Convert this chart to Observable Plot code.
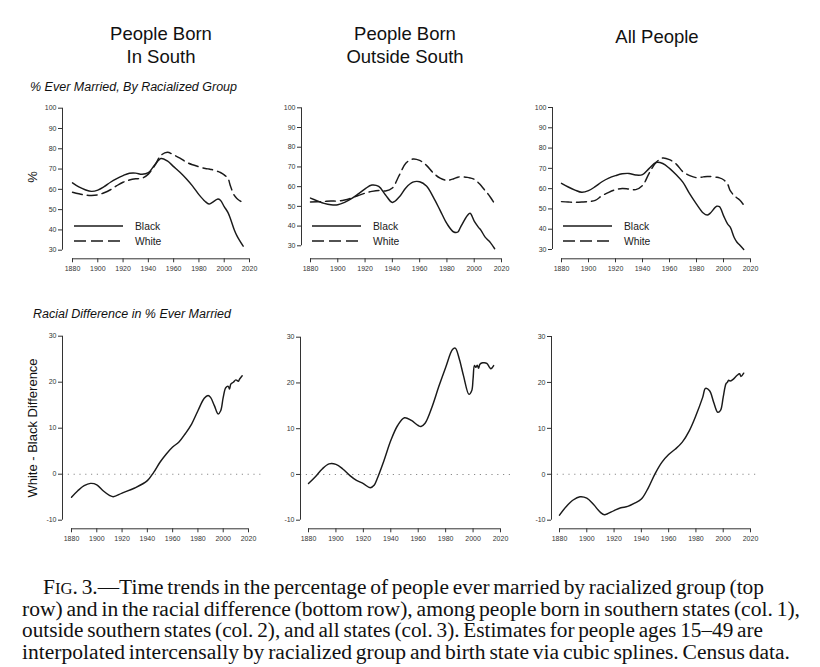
<!DOCTYPE html>
<html>
<head>
<meta charset="utf-8">
<script src="https://cdn.jsdelivr.net/npm/d3@7"></script>
<script src="https://cdn.jsdelivr.net/npm/@observablehq/plot@0.6"></script>
<style>
  body { margin: 0; background: #fff; }
  #root { position: relative; width: 820px; height: 667px; overflow: hidden; background: #fff;
          font-family: "Liberation Sans", Arial, sans-serif; color: #111; }
  .abs { position: absolute; }
  .head { font-size: 18.5px; line-height: 23px; text-align: center; width: 260px; }
  .sub { font-size: 12.5px; font-style: italic; line-height: 16px; white-space: nowrap; }
  .ylab { width: 220px; text-align: center; line-height: 16px; white-space: nowrap; transform: rotate(-90deg); }
  .cap { font-family: "Liberation Serif", "Times New Roman", serif; font-size: 19px; line-height: 21px;
         white-space: nowrap; color: #111; transform-origin: 0 50%; }
</style>
</head>
<body>
<div id="root">
  <div class="abs head" style="left:31px;top:22px">People Born<br>In South</div>
  <div class="abs head" style="left:275px;top:22px">People Born<br>Outside South</div>
  <div class="abs head" style="left:527px;top:25px">All People</div>
  <div class="abs sub" style="left:30px;top:79px">% Ever Married, By Racialized Group</div>
  <div class="abs sub" style="left:33px;top:306px">Racial Difference in % Ever Married</div>
  <div class="abs ylab" style="left:-77px;top:169px;font-size:13px">%</div>
  <div class="abs ylab" style="left:-77px;top:420px;font-size:13px">White - Black Difference</div>
</div>
<script>
// ---------- data ----------
const xTicks = [1880, 1900, 1920, 1940, 1960, 1980, 2000, 2020];
const yTicksTop = [30, 40, 50, 60, 70, 80, 90, 100];
const yTicksDiff = [-10, 0, 10, 20, 30];
const groups = ["Black", "White"];
const columnTitles = ["People Born In South", "People Born Outside South", "All People"];

const topYears = [1880,1885,1890,1895,1900,1905,1910,1915,1920,1925,1930,1935,1940,1945,1950,1955,1960,1965,1970,1975,1980,1985,1988,1990,1995,1997,2000,2003,2005,2008,2010,2012,2015];

const southBlack = [63.2,61.2,59.8,59.0,59.6,61.3,63.5,65.3,66.8,67.9,68.0,67.4,68.2,72.0,75.2,74.0,71.2,68.4,65.2,61.6,57.4,54.0,52.8,53.3,55.2,54.6,51.5,48.5,45.4,40.0,37.2,35.0,32.0];
const southWhite = [58.6,57.8,57.2,57.0,57.3,58.3,59.8,61.8,63.5,64.6,65.2,65.5,67.5,71.7,76.8,78.3,77.0,75.4,73.4,72.1,71.1,70.3,70.0,69.8,68.8,68.3,67.1,65.3,61.5,57.0,55.5,54.5,53.5];
const outsideBlack = [54.2,52.8,51.5,50.8,50.8,52.0,53.9,56.3,58.9,60.8,60.1,55.8,52.0,54.7,59.5,62.3,62.5,60.3,54.7,48.0,41.2,37.0,37.0,39.5,45.4,46.5,42.5,39.5,37.8,34.4,33.0,31.5,28.5];
const outsideWhite = [52.2,52.3,52.5,52.7,52.7,53.2,54.2,55.5,56.7,57.6,58.1,57.8,59.3,65.7,72.0,74.0,73.3,70.8,67.0,64.3,63.2,64.0,64.8,65.0,64.7,64.4,63.7,62.0,60.6,58.0,56.4,54.5,51.3];
const allBlack = [62.6,60.8,59.3,58.2,59.0,61.0,63.4,65.2,66.4,67.3,67.5,66.7,66.9,70.0,72.9,72.4,70.0,66.8,63.1,57.4,52.4,48.0,47.0,47.8,51.3,51.1,46.7,42.6,41.0,35.8,33.6,32.2,30.0];
const allWhite = [53.6,53.4,53.3,53.4,53.6,54.2,56.5,58.2,59.5,60.1,59.8,59.5,61.5,67.7,72.9,75.1,74.3,72.1,68.3,66.4,65.4,65.8,66.0,66.0,65.6,65.3,64.4,62.3,59.0,56.5,55.4,54.4,51.9];

const southDiffYears = [1880,1885,1890,1895,1900,1905,1910,1913,1920,1930,1940,1945,1950,1955,1960,1965,1970,1975,1980,1985,1988,1990,1993,1996,1998,2000,2002,2004,2005,2006,2008,2010,2012,2013,2015];
const southDiff = [-5.0,-3.6,-2.5,-2.0,-2.3,-3.6,-4.6,-4.9,-4.1,-3.0,-1.4,0.4,2.6,4.4,5.9,7.0,8.8,10.9,13.8,16.5,17.1,16.7,14.9,13.1,13.8,16.7,18.8,19.1,18.5,19.6,20.0,20.5,20.2,20.7,21.4];

const outsideDiffYears = [1880,1885,1890,1895,1900,1905,1910,1915,1920,1925,1928,1930,1935,1940,1945,1950,1955,1960,1962,1965,1970,1975,1980,1985,1987,1990,1993,1997,1999,2000,2001,2002,2003,2004,2005,2007,2010,2012,2013,2015];
const outsideDiff = [-2.0,-0.5,1.2,2.3,2.2,1.2,-0.2,-1.3,-2.0,-2.9,-2.3,-1.0,3.0,7.4,10.7,12.4,11.8,10.7,10.5,11.2,14.7,19.2,23.4,27.3,27.6,25.2,21.6,17.5,18.3,20.9,23.8,23.4,23.9,23.2,24.1,24.4,24.3,23.4,23.1,23.8];

const allDiffYears = [1880,1885,1890,1895,1900,1905,1910,1913,1920,1925,1930,1935,1940,1945,1950,1955,1960,1965,1970,1975,1980,1985,1987,1990,1993,1996,1998,2000,2002,2003,2004,2005,2007,2010,2012,2013,2015];
const allDiff = [-8.9,-7.0,-5.6,-4.9,-5.2,-6.6,-8.3,-8.8,-7.9,-7.3,-7.0,-6.3,-5.4,-3.0,0.1,2.6,4.3,5.5,7.0,9.4,12.8,16.8,18.7,18.2,15.7,13.5,13.9,16.8,19.7,20.0,20.5,20.3,20.6,21.5,21.9,21.3,22.0];

const captionLines = [
  "3.\u2014Time trends in the percentage of people ever married by racialized group (top",
  "row) and in the racial difference (bottom row), among people born in southern states (col. 1),",
  "outside southern states (col. 2), and all states (col. 3). Estimates for people ages 15\u201349 are",
  "interpolated intercensally by racialized group and birth state via cubic splines. Census data."
];

// ---------- helpers ----------
const toRows = (years, values) => d3.zip(years, values).map(([year, value]) => ({year, value}));
const root = document.getElementById("root");
const INK = "#1a1a1a";
const AXIS = "#333";

function panel(cfg) {
  const {left, top, width, height, axisX, xRange, yRange, axisBottom, marginRight, yTicks, series, zero} = cfg;
  const marks = [];
  if (zero) marks.push(Plot.ruleY([0], {stroke: "#8a8a8a", strokeWidth: 1.1, strokeDasharray: "1.2,4.6"}));
  for (const s of series) {
    marks.push(Plot.line(s.rows, {x: "year", y: "value", curve: "catmull-rom", stroke: INK,
      strokeWidth: 1.45, strokeDasharray: s.dashed ? "10,5" : null}));
  }
  marks.push(
    Plot.ruleX([xTicks[0]], {y1: yTicks[0], y2: yTicks[yTicks.length - 1], dx: axisX - xRange[0], stroke: AXIS, strokeWidth: 1}),
    Plot.ruleY([yTicks[0]], {x1: xTicks[0], x2: xTicks[xTicks.length - 1], dy: axisBottom - yRange[0], stroke: AXIS, strokeWidth: 1}),
    Plot.axisY({ticks: yTicks, tickSize: 4, tickPadding: 2, tickFormat: d => String(d), color: AXIS, label: null}),
    Plot.axisX({ticks: xTicks, tickSize: 4, tickPadding: 3.5, tickFormat: d => String(d), color: AXIS, label: null})
  );
  const svg = Plot.plot({
    width, height,
    marginLeft: axisX, marginRight, marginTop: 0, marginBottom: height - axisBottom,
    x: {domain: [xTicks[0], xTicks[xTicks.length - 1]], range: xRange},
    y: {domain: [yTicks[0], yTicks[yTicks.length - 1]], range: yRange},
    style: {fontFamily: "'Liberation Sans', Arial, sans-serif", fontSize: "7px", background: "transparent", overflow: "visible"},
    marks
  });
  const wrap = document.createElement("div");
  wrap.className = "abs";
  wrap.style.left = left + "px";
  wrap.style.top = top + "px";
  wrap.appendChild(svg);
  root.appendChild(wrap);
}

const topSeries = [
  [{rows: toRows(topYears, southBlack)}, {rows: toRows(topYears, southWhite), dashed: true}],
  [{rows: toRows(topYears, outsideBlack)}, {rows: toRows(topYears, outsideWhite), dashed: true}],
  [{rows: toRows(topYears, allBlack)}, {rows: toRows(topYears, allWhite), dashed: true}]
];
const diffSeries = [
  [{rows: toRows(southDiffYears, southDiff)}],
  [{rows: toRows(outsideDiffYears, outsideDiff)}],
  [{rows: toRows(allDiffYears, allDiff)}]
];

// layout (pixels)
const topLayout = [
  {left: 0, width: 270, axisX: 62, xRange: [72, 249], yRange: [154.7, 12.7], marginRight: 10},
  {left: 270, width: 270, axisX: 31, xRange: [40, 231], yRange: [150.3, 12.3], marginRight: 10},
  {left: 540, width: 280, axisX: 12, xRange: [21, 210], yRange: [154, 12], marginRight: 20}
];
const diffLayout = [
  {left: 0, width: 270, axisX: 62, xRange: [71, 248], yRange: [199.7, 15.7], marginRight: 7},
  {left: 270, width: 270, axisX: 30, xRange: [38, 230], yRange: [199.7, 16.7], marginRight: 30},
  {left: 540, width: 280, axisX: 11, xRange: [19, 210], yRange: [199.7, 16], marginRight: 62}
];

topLayout.forEach((L, i) => panel({...L, top: 95, height: 190, axisBottom: 163.3, yTicks: yTicksTop, series: topSeries[i]}));
diffLayout.forEach((L, i) => panel({...L, top: 320, height: 230, axisBottom: 208.3, yTicks: yTicksDiff, series: diffSeries[i], zero: true}));

// legends
const legendLeft = [74, 312, 563];
const ns = "http://www.w3.org/2000/svg";
const lg = document.createElementNS(ns, "svg");
lg.setAttribute("width", 820); lg.setAttribute("height", 667);
lg.setAttribute("class", "abs"); lg.style.left = "0px"; lg.style.top = "0px"; lg.style.pointerEvents = "none";
legendLeft.forEach(L => {
  groups.forEach((g, j) => {
    const y = 226 + j * 15;
    const ln = document.createElementNS(ns, "line");
    ln.setAttribute("x1", L); ln.setAttribute("x2", L + 49);
    ln.setAttribute("y1", y); ln.setAttribute("y2", y);
    ln.setAttribute("stroke", INK); ln.setAttribute("stroke-width", 1.5);
    if (j === 1) ln.setAttribute("stroke-dasharray", "12,5");
    lg.appendChild(ln);
    const t = document.createElementNS(ns, "text");
    t.setAttribute("x", L + 61); t.setAttribute("y", y + 3.6);
    t.setAttribute("font-size", "10.3px");
    t.setAttribute("font-family", "'Liberation Sans', Arial, sans-serif");
    t.setAttribute("fill", INK);
    t.textContent = g;
    lg.appendChild(t);
  });
});
root.appendChild(lg);

// caption: each line fitted to its measured extent in the reference
const capGeom = [[43, 764], [22, 800], [22, 763], [22, 790]];
const capTop = [577, 598.5, 620, 641.5];
const capDivs = captionLines.map((txt, i) => {
  const d = document.createElement("div");
  d.className = "abs cap";
  d.style.left = capGeom[i][0] + "px";
  d.style.top = capTop[i] + "px";
  if (i === 0) d.innerHTML = 'F<span style="font-size:0.78em">IG</span>. ' + txt;
  else d.textContent = txt;
  root.appendChild(d);
  return d;
});
// horizontally condense like the typeset original: larger type, scaled in x
const capFont = 20.5;
capDivs.forEach((d, i) => {
  d.style.fontSize = capFont + "px";
  d.style.wordSpacing = "-1.5px";
  const w = d.getBoundingClientRect().width;
  const target = capGeom[i][1] - capGeom[i][0];
  d.style.transform = `scaleX(${target / w})`;
});
</script>
</body>
</html>
